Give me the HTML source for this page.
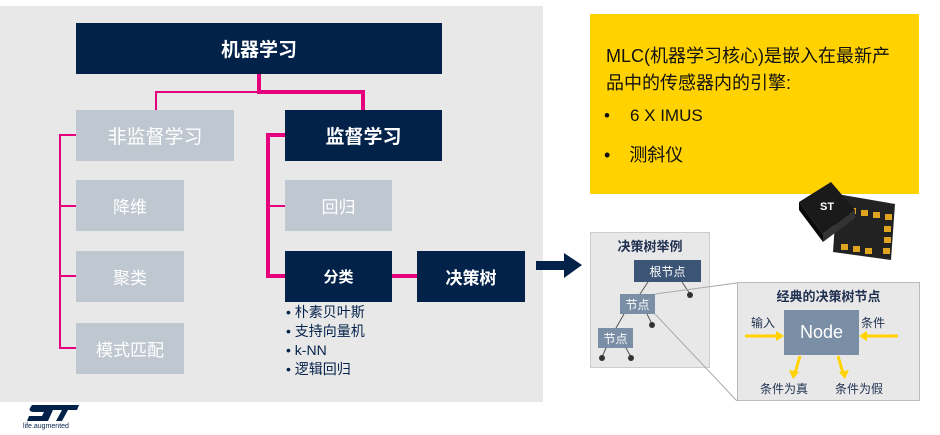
<!DOCTYPE html>
<html><head><meta charset="utf-8"><style>
body{margin:0;width:940px;height:435px;background:#fff;position:relative;overflow:hidden;font-family:"Liberation Sans","Noto Sans CJK SC",sans-serif}
.a{position:absolute;box-sizing:border-box;display:flex;align-items:center;justify-content:center}
.d{background:#03224a;color:#fff;font-weight:bold}
.l{background:#bfc7d1;color:#fff}
.p{position:absolute;background:#e6007e}
</style></head><body>
<div class="a" style="left:0;top:6px;width:543px;height:396px;background:#e8e8e8"></div>
<div class="a d" style="left:76px;top:23px;width:366px;height:51px;font-size:19px">机器学习</div>
<div class="a l" style="left:76px;top:110px;width:158px;height:51px;font-size:19px">非监督学习</div>
<div class="a d" style="left:285px;top:110px;width:157px;height:51px;font-size:19px">监督学习</div>
<div class="a l" style="left:76px;top:180px;width:108px;height:51px;font-size:17px">降维</div>
<div class="a l" style="left:76px;top:251px;width:108px;height:51px;font-size:17px">聚类</div>
<div class="a l" style="left:76px;top:323px;width:108px;height:51px;font-size:17px">模式匹配</div>
<div class="a l" style="left:285px;top:180px;width:107px;height:51px;font-size:17px">回归</div>
<div class="a d" style="left:285px;top:251px;width:107px;height:51px;font-size:15px">分类</div>
<div class="a d" style="left:417px;top:251px;width:108px;height:51px;font-size:17px">决策树</div>
<!-- connectors -->
<div class="p" style="left:257px;top:74px;width:4px;height:20px"></div>
<div class="p" style="left:155px;top:91px;width:104px;height:2px"></div>
<div class="p" style="left:155px;top:91px;width:2px;height:19px"></div>
<div class="p" style="left:257px;top:90px;width:108px;height:4px"></div>
<div class="p" style="left:361px;top:90px;width:4px;height:20px"></div>
<div class="p" style="left:59px;top:134px;width:2px;height:214px"></div>
<div class="p" style="left:59px;top:134px;width:17px;height:2px"></div>
<div class="p" style="left:59px;top:205px;width:17px;height:2px"></div>
<div class="p" style="left:59px;top:275px;width:17px;height:2px"></div>
<div class="p" style="left:59px;top:347px;width:17px;height:2px"></div>
<div class="p" style="left:266px;top:133px;width:4px;height:145px"></div>
<div class="p" style="left:266px;top:133px;width:19px;height:4px"></div>
<div class="p" style="left:266px;top:205px;width:19px;height:2px"></div>
<div class="p" style="left:266px;top:274px;width:19px;height:4px"></div>
<div class="p" style="left:392px;top:274px;width:25px;height:4px"></div>
<div style="position:absolute;left:286px;top:303px;font-size:14px;line-height:19px;color:#03224a">• 朴素贝叶斯<br>• 支持向量机<br>• k-NN<br>• 逻辑回归</div>
<!-- logo -->
<svg style="position:absolute;left:24px;top:404px" width="56" height="20"><path d="M8 1 H55 L53 6 H44 L38 17 H32 L38 6 H29 L24 17 H3 L5 12 H18 L20 8 H11 Q4 8 6 4 Z" fill="#03224a"/></svg>
<div style="position:absolute;left:23px;top:423px;font-size:7px;color:#03224a">life.augmented</div>
<!-- arrow -->
<svg style="position:absolute;left:536px;top:252px" width="48" height="28"><path d="M0 9 H28 V1 L46 13 L28 26 V18 H0 Z" fill="#03224a"/></svg>
<!-- yellow -->
<div style="position:absolute;left:590px;top:14px;width:329px;height:180px;background:#ffd200;color:#111">
<div style="position:absolute;left:16px;top:29px;font-size:18px;line-height:27px;width:300px">MLC(机器学习核心)是嵌入在最新产品中的传感器内的引擎:</div>
<div style="position:absolute;left:14px;top:92px;font-size:17px">•<span style="margin-left:20px">6 X IMUS</span></div>
<div style="position:absolute;left:14px;top:127px;font-size:18px">•<span style="margin-left:19px">测斜仪</span></div>
</div>
<!-- chip -->
<svg style="position:absolute;left:795px;top:182px" width="110" height="80">
<polygon points="42,12 100,22 96,78 38,70" fill="#222"/>
<g fill="#e0a520"><rect x="54" y="26" width="7" height="6"/><rect x="66" y="28" width="7" height="6"/><rect x="78" y="30" width="7" height="6"/><rect x="90" y="32" width="7" height="6"/><rect x="89" y="44" width="7" height="6"/><rect x="89" y="55" width="7" height="6"/><rect x="88" y="66" width="7" height="6"/><rect x="46" y="62" width="7" height="6"/><rect x="58" y="64" width="7" height="6"/><rect x="70" y="66" width="7" height="6"/></g>
<polygon points="4,20 36,0 60,28 28,52" fill="#1a1a1a"/>
<polygon points="28,52 60,28 60,36 28,60" fill="#333"/>
<polygon points="4,20 28,52 28,60 4,28" fill="#0a0a0a"/>
<text x="25" y="28" font-size="11" font-weight="bold" fill="#fff" font-family="Liberation Sans">ST</text>
</svg>
<!-- tree example -->
<div style="position:absolute;left:590px;top:232px;width:120px;height:136px;background:#e8e8e8;border:1px solid #ccc;box-sizing:border-box"></div>
<div style="position:absolute;left:590px;top:236px;width:120px;text-align:center;font-size:13px;font-weight:bold;color:#1f3050">决策树举例</div>
<svg style="position:absolute;left:0;top:0" width="940" height="435">
<g stroke="#555" stroke-width="1"><line x1="648" y1="282" x2="640" y2="294"/><line x1="682" y1="282" x2="690" y2="294"/><line x1="624" y1="314" x2="616" y2="328"/><line x1="647" y1="314" x2="652" y2="324"/><line x1="606" y1="348" x2="602" y2="357"/><line x1="626" y1="348" x2="631" y2="357"/></g>
<g fill="#333"><circle cx="690" cy="295" r="3"/><circle cx="652" cy="325" r="3"/><circle cx="602" cy="358" r="3"/><circle cx="631" cy="358" r="3"/></g>
<g stroke="#aaa" stroke-width="1"><line x1="655" y1="294" x2="737" y2="283"/><line x1="655" y1="314" x2="737" y2="401"/></g>
</svg>
<div class="a" style="left:634px;top:260px;width:67px;height:22px;background:#3c5475;color:#fff;font-size:12px">根节点</div>
<div class="a" style="left:620px;top:294px;width:35px;height:20px;background:#7a8ea6;color:#fff;font-size:12px">节点</div>
<div class="a" style="left:598px;top:328px;width:35px;height:20px;background:#7a8ea6;color:#fff;font-size:12px">节点</div>
<!-- node box -->
<div style="position:absolute;left:737px;top:282px;width:183px;height:119px;background:#e8e8e8;border:1px solid #bbb;box-sizing:border-box"></div>
<div style="position:absolute;left:737px;top:286px;width:183px;text-align:center;font-size:13px;font-weight:bold;color:#1f3050">经典的决策树节点</div>
<div class="a" style="left:784px;top:310px;width:75px;height:45px;background:#7a8ea6;color:#fff;font-size:18px">Node</div>
<div style="position:absolute;left:751px;top:314px;font-size:12px;color:#1f3050">输入</div>
<div style="position:absolute;left:861px;top:314px;font-size:12px;color:#1f3050">条件</div>
<div style="position:absolute;left:760px;top:380px;font-size:12px;color:#1f3050">条件为真</div>
<div style="position:absolute;left:835px;top:380px;font-size:12px;color:#1f3050">条件为假</div>
<svg style="position:absolute;left:0;top:0" width="940" height="435">
<g stroke="#ffd200" stroke-width="3"><line x1="745" y1="336" x2="779" y2="336"/><line x1="898" y1="336" x2="864" y2="336"/><line x1="800" y1="356" x2="795" y2="373"/><line x1="838" y1="356" x2="843" y2="373"/></g>
<g fill="#ffd200"><polygon points="784,336 776,331 776,341"/><polygon points="859,336 867,331 867,341"/><polygon points="793,379 789,370 799,372"/><polygon points="845,379 839,372 849,370"/></g>
</svg>
</body></html>
